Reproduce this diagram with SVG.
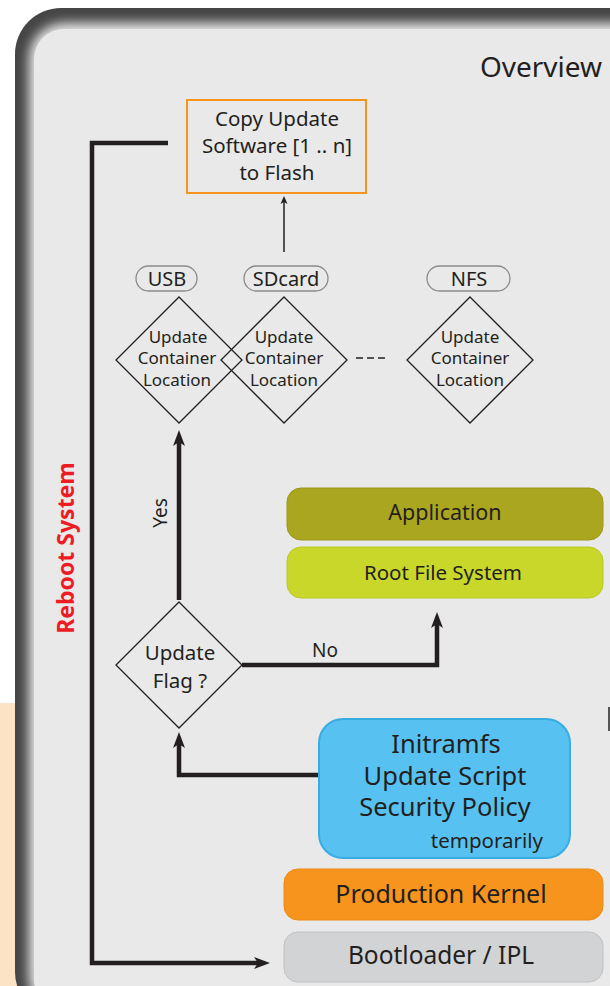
<svg xmlns="http://www.w3.org/2000/svg" width="610" height="986" viewBox="0 0 610 986">
<defs>
<filter id="blur" x="-10%" y="-10%" width="120%" height="120%"><feGaussianBlur stdDeviation="6"/></filter>
<marker id="ah" viewBox="0 0 16 12" refX="4" refY="6" markerWidth="16" markerHeight="12" markerUnits="userSpaceOnUse" orient="auto"><path d="M0,0 L16,6 L0,12 L4,6 z" fill="#231f20"/></marker>
<marker id="ahs" viewBox="0 0 8 8" refX="2" refY="4" markerWidth="8" markerHeight="8" markerUnits="userSpaceOnUse" orient="auto"><path d="M0,0.5 L8,4 L0,7.5 L2,4 z" fill="#231f20"/></marker>
</defs>
<style>
text{font-family:"Noto Sans","Open Sans","DejaVu Sans",sans-serif;fill:#231f20}
.c{text-anchor:middle}
.thick{fill:none;stroke:#231f20;stroke-width:4.5;marker-end:url(#ah)}
.dia{fill:none;stroke:#231f20;stroke-width:1.3}
.pill{fill:none;stroke:#8a8a8a;stroke-width:1.3}
.dt{font-size:17px}
</style>
<rect width="610" height="986" fill="#ffffff"/>
<rect x="0" y="703" width="20" height="283" fill="#fde3c6"/>
<g id="panel">
<rect x="15" y="8" width="660" height="1010" rx="46" fill="#454545"/>
<rect x="29" y="23" width="640" height="990" rx="36" fill="#e9e9e9" filter="url(#blur)"/>
<rect x="34" y="29" width="620" height="980" rx="30" fill="#e9e9e9"/>
</g>
<text x="541" y="77" class="c" font-size="28">Overview</text>
<g id="connectors">
<path d="M168,143 H92 V963 H258" class="thick"/>
<path d="M179,600 V442" class="thick"/>
<path d="M242,665 H437 V624" class="thick"/>
<path d="M333,775 H179 V744" class="thick"/>
<path d="M284,252 V202" fill="none" stroke="#231f20" stroke-width="1.5" marker-end="url(#ahs)"/>
<path d="M356,358 h7 M367,358 h7 M378,358 h7" stroke="#231f20" stroke-width="1.6"/>
<text x="325" y="657" class="c" font-size="19">No</text>
<text transform="translate(167,513) rotate(-90)" class="c" font-size="19">Yes</text>
</g>
<text transform="translate(74,548) rotate(-90)" class="c" font-size="23" font-weight="bold" style="fill:#ed1c24">Reboot System</text>
<g id="copy">
<rect x="187" y="100" width="179" height="93" fill="none" stroke="#f7941d" stroke-width="2"/>
<text x="277" y="126" class="c" font-size="20.5">Copy Update</text>
<text x="277" y="153" class="c" font-size="20.5">Software [1 .. n]</text>
<text x="277" y="180" class="c" font-size="20.5">to Flash</text>
</g>
<g id="usb">
<rect x="136" y="266" width="61" height="25" rx="12.5" class="pill"/>
<text x="167" y="286" class="c" font-size="20">USB</text>
<polygon points="179,297 242,360 179,423 116,360" class="dia"/>
<text x="178" y="343" class="c dt">Update</text>
<text x="177" y="364" class="c dt">Container</text>
<text x="177" y="386" class="c dt">Location</text>
</g>
<g id="sdcard">
<rect x="244" y="266" width="84" height="25" rx="12.5" class="pill"/>
<text x="286" y="286" class="c" font-size="20">SDcard</text>
<polygon points="284,297 347,360 284,423 221,360" class="dia"/>
<text x="284" y="343" class="c dt">Update</text>
<text x="284" y="364" class="c dt">Container</text>
<text x="284" y="386" class="c dt">Location</text>
</g>
<g id="nfs">
<rect x="427" y="266" width="83" height="25" rx="12.5" class="pill"/>
<text x="469" y="286" class="c" font-size="20">NFS</text>
<polygon points="470,297 533,360 470,423 407,360" class="dia"/>
<text x="470" y="343" class="c dt">Update</text>
<text x="470" y="364" class="c dt">Container</text>
<text x="470" y="386" class="c dt">Location</text>
</g>
<g id="flag">
<polygon points="179,602 242,665 179,728 116,665" class="dia"/>
<text x="180" y="660" class="c" font-size="20.5">Update</text>
<text x="180" y="688" class="c" font-size="20.5">Flag ?</text>
</g>
<g id="application">
<rect x="287" y="488" width="316" height="52" rx="14" fill="#aba61f" stroke="#9c971b" stroke-width="1"/>
<text x="445" y="520" class="c" font-size="21.5">Application</text>
</g>
<g id="rootfs">
<rect x="287" y="547" width="316" height="51" rx="14" fill="#c9d72b" stroke="#bac823" stroke-width="1"/>
<text x="443" y="580" class="c" font-size="20.5">Root File System</text>
</g>
<g id="initramfs">
<rect x="319" y="719" width="251" height="139" rx="24" fill="#57c2f1" stroke="#37ace3" stroke-width="2"/>
<text x="446" y="753" class="c" font-size="25.5">Initramfs</text>
<text x="445" y="785" class="c" font-size="25.5">Update Script</text>
<text x="445" y="816" class="c" font-size="25.5">Security Policy</text>
<text x="543" y="848" text-anchor="end" font-size="20.5">temporarily</text>
</g>
<g id="kernel">
<rect x="284" y="869" width="319" height="51" rx="14" fill="#f7941d" stroke="#ec8a15" stroke-width="1"/>
<text x="441" y="903" class="c" font-size="25">Production Kernel</text>
</g>
<g id="bootloader">
<rect x="284" y="932" width="319" height="50" rx="14" fill="#d1d3d4" stroke="#bfc1c2" stroke-width="1"/>
<text x="441" y="964" class="c" font-size="24.5">Bootloader / IPL</text>
</g>
<rect x="608" y="707" width="2" height="24" fill="#555"/>
</svg>
